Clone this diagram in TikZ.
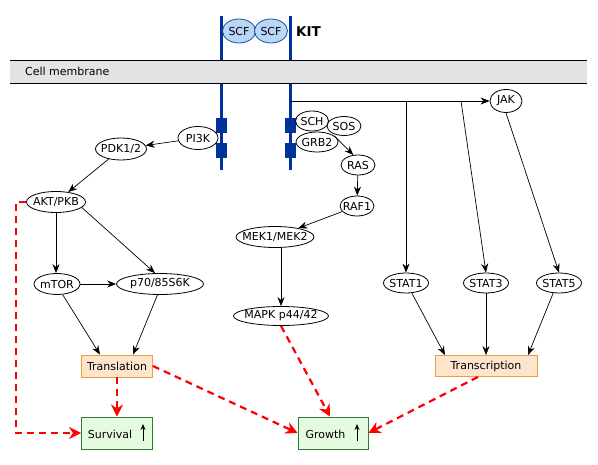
\documentclass[tikz,border=0pt]{standalone}
\usepackage{fontspec}
\setmainfont{DejaVu Sans}
\usetikzlibrary{shapes.geometric,arrows.meta,calc}
\definecolor{membfill}{HTML}{E3E3E3}
\definecolor{recblue}{HTML}{003399}
\definecolor{scffill}{HTML}{B9D7F7}
\definecolor{scfline}{HTML}{1F4E9A}
\definecolor{peachfill}{HTML}{FDE5CD}
\definecolor{peachline}{HTML}{F39A3C}
\definecolor{greenfill}{HTML}{E5FBE0}
\definecolor{greenline}{HTML}{2E7D32}
\definecolor{redarrow}{HTML}{FF0000}
\newcommand\ztext[1]{\makebox[0pt]{#1}}
\tikzset{
  ell/.style={draw=black, fill=white, ellipse, inner sep=0pt, line width=0.8pt},
  scf/.style={draw=scfline, fill=scffill, ellipse, inner sep=0pt, line width=0.8pt, minimum width=33pt, minimum height=24pt},
  peachbox/.style={draw=peachline, fill=peachfill, rectangle, inner sep=0pt, line width=0.8pt},
  greenbox/.style={draw=greenline, fill=greenfill, rectangle, inner sep=0pt, line width=0.9pt},
  arr/.style={draw=black, line width=0.7pt, -{Stealth[length=9pt,width=7pt]}},
  redarr/.style={draw=redarrow, line width=2.2pt, dash pattern=on 7pt off 5pt, -{Stealth[length=12pt,width=12pt]}},
  uparr/.style={draw=black, line width=0.9pt, -{Stealth[length=6pt,width=5pt]}},
  rec/.style={draw=recblue, line width=3pt},
}
\begin{document}
\begin{tikzpicture}[x=1pt,y=-1pt, font=\fontsize{11}{13}\selectfont]
\path[use as bounding box] (0,0) rectangle (598,465);
% receptor
\draw[rec] (221,16) -- (221,170);
\draw[rec] (290,16) -- (290,170);
\fill[recblue] (216,118) rectangle (227,133);
\fill[recblue] (216,143) rectangle (227,158);
\fill[recblue] (285,118) rectangle (296,133);
\fill[recblue] (285,143) rectangle (296,158);
% membrane
\fill[membfill] (10,60) rectangle (587,83);
\draw[line width=0.9pt] (10,60) -- (587,60);
\draw[line width=0.9pt] (10,83) -- (587,83);
\node[anchor=west, inner sep=0pt] (membrane) at (25,71) {Cell membrane};
% SCF + KIT
\node[scf] (scf1) at (239,31) {\ztext{SCF}};
\node[scf] (scf2) at (271,31) {\ztext{SCF}};
\node[anchor=west, inner sep=0pt, font=\fontsize{13.5}{15}\bfseries\selectfont] (kit) at (296,32) {KIT};
% coordinates
\coordinate (kitR) at (290,101);
\coordinate (b1) at (406,101);
\coordinate (b3) at (461,101);
\coordinate (aktcorner) at (16,202);
% nodes
\node[ell, minimum width=40pt, minimum height=23pt] (pi3k) at (198,138) {\ztext{PI3K}};
\node[ell, minimum width=51pt, minimum height=22pt] (pdk) at (121,149) {\ztext{PDK1/2}};
\node[ell, minimum width=59pt, minimum height=21pt] (akt) at (56,202) {\ztext{AKT/PKB}};
\node[ell, minimum width=46pt, minimum height=21pt] (mtor) at (57,284) {\ztext{mTOR}};
\node[ell, minimum width=87pt, minimum height=21pt] (p70) at (160,284) {\ztext{p70/85S6K}};
\node[ell, minimum width=34pt, minimum height=20pt] (ras) at (358,165) {\ztext{RAS}};
\node[ell, minimum width=34pt, minimum height=20pt] (raf1) at (357,206) {\ztext{RAF1}};
\node[ell, minimum width=78pt, minimum height=21pt] (mek) at (275,237) {\ztext{MEK1/MEK2}};
\node[ell, minimum width=95pt, minimum height=19pt] (mapk) at (281,316) {\ztext{MAPK p44/42}};
\node[ell, minimum width=32pt, minimum height=23pt] (jak) at (506,101) {\ztext{JAK}};
\node[ell, minimum width=45pt, minimum height=20pt] (stat1) at (406,283) {\ztext{STAT1}};
\node[ell, minimum width=45pt, minimum height=20pt] (stat3) at (486,283) {\ztext{STAT3}};
\node[ell, minimum width=45pt, minimum height=20pt] (stat5) at (559,283) {\ztext{STAT5}};
\node[peachbox, minimum width=71pt, minimum height=22pt] (transl) at (117,366) {\ztext{Translation}};
\node[peachbox, minimum width=102pt, minimum height=21pt] (transc) at (486,366) {\ztext{Transcription}};
\node[greenbox, minimum width=71pt, minimum height=32pt] (surv) at (117,433) {};
\node[greenbox, minimum width=70pt, minimum height=32pt] (growth) at (333,433) {};
\node[inner sep=0pt] (survtext) at (110,434) {Survival};
\node[inner sep=0pt] (growtext) at (325.5,434) {Growth};
\coordinate (survlow) at (143,441);
\coordinate (survhigh) at (143,424);
\coordinate (growlow) at (357,441);
\coordinate (growhigh) at (357,424);
\draw[uparr] (survlow) -- (survhigh);
\draw[uparr] (growlow) -- (growhigh);
% black connectors
\draw[arr] (pi3k) -- (pdk);
\draw[arr] (pdk) -- (akt);
\draw[arr] (akt.south) -- (akt.south |- mtor.north);
\draw[arr] (akt.-12) -- ($(p70.north)+(-5,0)$);
\draw[arr] (mtor) -- (p70);
\draw[arr] (mtor.-62) -- ($(transl.north)+(-17,0)$);
\draw[arr] (p70.-103) -- ($(transl.north)+(16,0)$);
\draw[arr] (ras) -- (raf1);
\draw[arr] (raf1) -- (mek);
\draw[arr] (mapk.north |- mek.south) -- (mapk.north);
\draw[arr] (kitR) -- (jak.west);
\draw[arr] (b1) -- (stat1.north);
\draw[arr] (b3) -- (stat3.north);
\draw[arr] (jak.south) -- (stat5.north);
\draw[arr] (stat1.-60) -- ($(transc.north)+(-41,0)$);
\draw[arr] (stat3.south) -- (transc.north);
\draw[arr] (stat5.-120) -- ($(transc.north)+(42,0)$);
% GRB2 complex
\node[ell, minimum width=34pt, minimum height=19pt] (sos) at (344,126) {\ztext{SOS}};
\node[ell, minimum width=33pt, minimum height=20pt] (sch) at (312,121) {\ztext{SCH}};
\node[ell, minimum width=42pt, minimum height=20pt] (grb2) at (317,142) {\ztext{GRB2}};
\draw[arr] (grb2.20) -- (ras.115);
% red connectors
\draw[redarr] (akt.west) -- (aktcorner) |- (surv.west);
\draw[redarr] (transl.south) -- (surv.north);
\draw[redarr] (transl.east) -- (growth.west);
\draw[redarr] (mapk.south) -- ($(growth.north)+(-3,0)$);
\draw[redarr] ($(transc.south)+(-8,0)$) -- (growth.east);
\end{tikzpicture}
\end{document}
